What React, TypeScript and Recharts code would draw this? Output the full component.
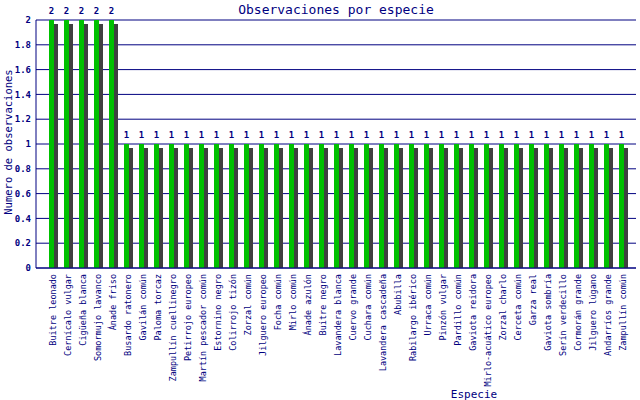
import React from 'react';
import {
  BarChart,
  Bar,
  XAxis,
  YAxis,
  CartesianGrid,
  LabelList,
} from 'recharts';

const species = [
  'Buitre leonado', 'Cernícalo vulgar', 'Cigüeña blanca', 'Somormujo lavanco',
  'Ánade friso', 'Busardo ratonero', 'Gavilán común', 'Paloma torcaz',
  'Zampullín cuellinegro', 'Petirrojo europeo', 'Martín pescador común',
  'Estornino negro', 'Colirrojo tizón', 'Zorzal común', 'Jilguero europeo',
  'Focha común', 'Mirlo común', 'Ánade azulón', 'Buitre negro',
  'Lavandera blanca', 'Cuervo grande', 'Cuchara común', 'Lavandera cascadeña',
  'Abubilla', 'Rabilargo ibérico', 'Urraca común', 'Pinzón vulgar',
  'Pardillo común', 'Gaviota reidora', 'Mirlo-acuático europeo',
  'Zorzal charlo', 'Cerceta común', 'Garza real', 'Gaviota sombría',
  'Serín verdecillo', 'Cormorán grande', 'Jilguero lúgano',
  'Andarríos grande', 'Zampullín común',
];

const counts = [
  2, 2, 2, 2, 2, 1, 1, 1, 1, 1, 1, 1, 1, 1, 1, 1, 1, 1, 1, 1,
  1, 1, 1, 1, 1, 1, 1, 1, 1, 1, 1, 1, 1, 1, 1, 1, 1, 1, 1,
];

const yTicks = [0, 0.2, 0.4, 0.6, 0.8, 1, 1.2, 1.4, 1.6, 1.8, 2];

const data = species.map((name, i) => ({ name, count: counts[i] }));

const NAVY = '#000080';
const FONT = '"DejaVu Sans Mono", monospace';

// green bar with a dark shadow behind it, like the old gd charts
const ShadowBar = (props: any) => {
  const { x, y, width, height } = props;
  if (!height) return null;
  return (
    <g shapeRendering="crispEdges">
      <rect x={x + 5} y={y + 4} width={width - 5} height={height - 4} fill="#404040" />
      <rect x={x} y={y} width={5} height={height} fill="#00C000" />
    </g>
  );
};

const XTick = (props: any) => {
  const { x, y, payload } = props;
  return (
    <text
      x={0}
      y={0}
      transform={`translate(${x - 1},${y + 4}) rotate(-90)`}
      textAnchor="end"
      dominantBaseline="central"
      fontFamily={FONT}
      fontSize={8.5}
      fill={NAVY}
    >
      {payload.value}
    </text>
  );
};

const ValueLabel = (props: any) => {
  const { x, y, value } = props;
  return (
    <text
      x={x + 2.5}
      y={y - 6}
      textAnchor="middle"
      fontFamily={FONT}
      fontSize={9}
      fontWeight="bold"
      fill={NAVY}
    >
      {value}
    </text>
  );
};

const App: React.FC = () => {
  return (
    <div style={{ position: 'absolute', left: 0, top: 0, width: 640, height: 400, background: '#fff' }}>
      <BarChart
        width={640}
        height={400}
        data={data}
        margin={{ top: 20, right: 4, left: 0, bottom: 0 }}
        barCategoryGap={0}
      >
        <text
          x={336}
          y={9}
          textAnchor="middle"
          dominantBaseline="central"
          fontFamily={FONT}
          fontSize={13}
          fill={NAVY}
        >
          Observaciones por especie
        </text>
        <text
          x={0}
          y={0}
          transform="translate(8,142) rotate(-90)"
          textAnchor="middle"
          dominantBaseline="central"
          fontFamily={FONT}
          fontSize={10.5}
          fill={NAVY}
        >
          Numero de observaciones
        </text>
        <text
          x={474}
          y={394}
          textAnchor="middle"
          dominantBaseline="central"
          fontFamily={FONT}
          fontSize={11}
          fill={NAVY}
        >
          Especie
        </text>
        <CartesianGrid yAxisId="left" vertical={false} stroke={NAVY} strokeWidth={1} />
        <XAxis
          dataKey="name"
          interval={0}
          height={132}
          padding={{ left: 10, right: 5 }}
          tick={<XTick />}
          tickLine={false}
          tickSize={0}
          axisLine={{ stroke: NAVY }}
        />
        <YAxis
          yAxisId="left"
          width={36}
          domain={[0, 2]}
          ticks={yTicks}
          tickLine={false}
          tickSize={0}
          axisLine={{ stroke: NAVY }}
          tick={{ fill: NAVY, fontFamily: FONT, fontSize: 9, fontWeight: 'bold' }}
          tickMargin={5}
        />
        <YAxis
          yAxisId="right"
          orientation="right"
          width={0}
          domain={[0, 2]}
          tick={false}
          tickLine={false}
          axisLine={{ stroke: NAVY }}
        />
        <Bar
          yAxisId="left"
          dataKey="count"
          barSize={9}
          shape={<ShadowBar />}
          isAnimationActive={false}
        >
          <LabelList dataKey="count" content={<ValueLabel />} />
        </Bar>
      </BarChart>
    </div>
  );
};

export default App;
